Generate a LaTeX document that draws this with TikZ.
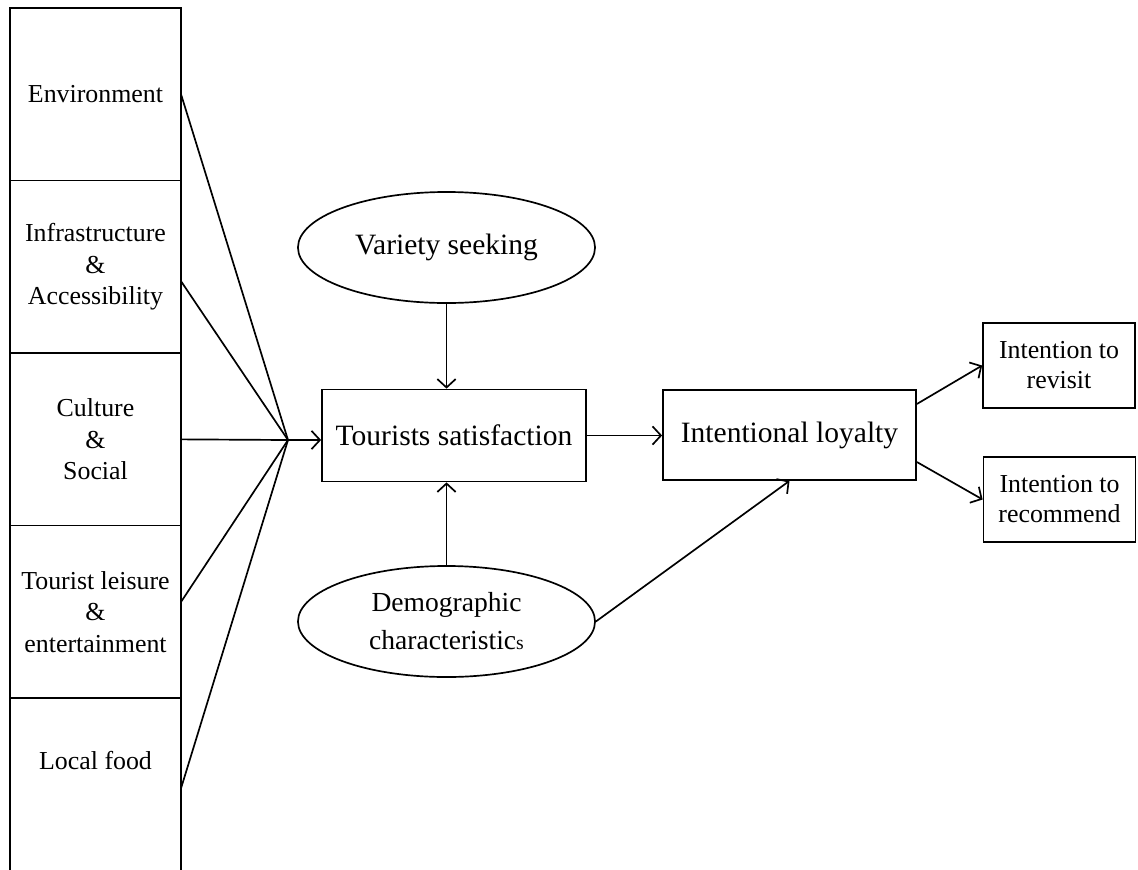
\documentclass[tikz,border=0pt]{standalone}
\usepackage{fontspec}
\setmainfont{Liberation Serif}
\usetikzlibrary{positioning, arrows.meta, shapes}
\tikzset{
      factor box/.style={
		draw,
		minimum width=4.275cm,
		minimum height=#1,
		inner sep=0pt, outer sep=0pt,
		align=center,
		font=\fontsize{18.4}{22.4}\selectfont,
	  },
      main box/.style={
		draw,
		minimum width=#1,
		minimum height=2.3cm,
		inner sep=0pt,
		font=\fontsize{21}{25}\selectfont,
	  },
      result box/.style={
		draw,
		minimum width=3.8cm,
		minimum height=2.125cm,
		inner sep=0pt,
		align=center,
		font=\fontsize{18.4}{21.3}\selectfont,
	  },
  		moderator/.style={
		draw, ellipse,
		minimum width=7.425cm,
		minimum height=2.775cm,
		inner sep=0pt,
		align=center,
      }
  	}

\begin{document}
\begin{tikzpicture}[x=0.025cm, y=-0.025cm, node distance=0pt, line width=1.2pt,
    >={Straight Barb[length=6pt,width=13pt]}]
    \useasboundingbox (0,0) rectangle (1138,869);
    \clip (0,0) rectangle (1138,869);
    % left column of factors
    \node [factor box=4.3125cm, anchor=north west] (env) at (10,8) {Environment};
    \node [factor box=4.3125cm, below=of env] (infra) {Infrastructure\\\&\\Accessibility};
    \node [factor box=4.3125cm, below=of infra] (cult) {Culture\\\&\\Social};
    \node [factor box=4.3125cm, below=of cult] (leis) {Tourist leisure\\\&\\entertainment};
    \node [factor box=5cm, below=of leis] (food) {};
    \node [font=\fontsize{18.4}{22.4}\selectfont] (foodtxt) at ([yshift=-1.55cm]food.north) {Local food};
    \coordinate (hub) at (288,440);
    % middle part
    \node [moderator, font=\fontsize{21}{25}\selectfont] (var) at (446.5,247.5) {Variety seeking};
    \node [main box=6.6cm] (ts) at (454,435.5) {Tourists satisfaction};
    \node [moderator, font=\fontsize{19.6}{27}\selectfont] (dem) at (446.5,621.5)
        {Demographic\\characteristic{\fontsize{14}{14}\selectfont s}};
    \node [main box=6.325cm, minimum height=2.25cm] (il) at (789.5,435) {Intentional loyalty};
    \node [result box] (rev) at (1059,365.5) {Intention to\\revisit};
    \node [result box] (rec) at (1059.5,499.5) {Intention to\\recommend};
    % connectors
    \draw (env.east) -- (hub);
    \draw ([yshift=-0.36cm]infra.east) -- (hub);
    \draw (cult.east) -- (hub);
    \draw ([yshift=0.25cm]leis.east) -- (hub);
    \draw ([yshift=0.25cm]food.east) -- (hub);
    \draw [->] (hub) -- (hub -| ts.west);
    \draw [->] (var.south) -- (var.south |- ts.north);
    \draw [->] (dem.north) -- (dem.north |- ts.south);
    \draw [->] (ts.east) -- (ts.east -| il.west);
    \draw [->] (dem.east) -- (il.south);
    \draw [->] ([yshift=0.775cm]il.east) -- (rev.west);
    \draw [->] ([yshift=-0.675cm]il.east) -- (rec.west);
  \end{tikzpicture}
\end{document}
